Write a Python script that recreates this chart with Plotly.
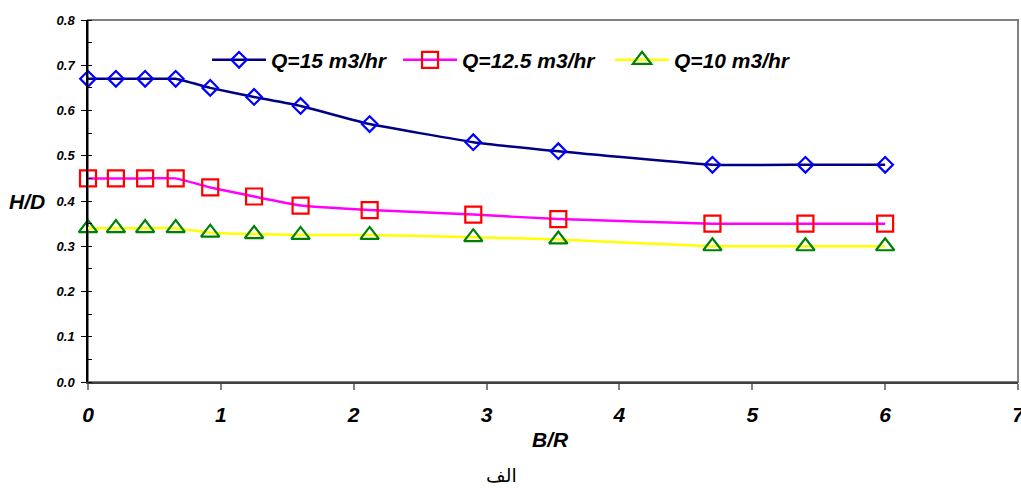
import plotly.graph_objects as go

# ---- data ----
br = [0, 0.21, 0.43, 0.66, 0.92, 1.25, 1.6, 2.12, 2.9, 3.54, 4.7, 5.4, 6.0]
q15 = [0.67, 0.67, 0.67, 0.67, 0.65, 0.63, 0.61, 0.57, 0.53, 0.51, 0.48, 0.48, 0.48]
q125 = [0.45, 0.45, 0.45, 0.45, 0.43, 0.41, 0.39, 0.38, 0.37, 0.36, 0.35, 0.35, 0.35]
q10 = [0.34, 0.34, 0.34, 0.34, 0.33, 0.327, 0.325, 0.325, 0.32, 0.315, 0.30, 0.30, 0.30]
names = ["Q=15 m3/hr", "Q=12.5 m3/hr", "Q=10 m3/hr"]
x_ticks = [0, 1, 2, 3, 4, 5, 6, 7]
y_ticks = [0.0, 0.1, 0.2, 0.3, 0.4, 0.5, 0.6, 0.7, 0.8]

FONT = "Liberation Sans, Arial, sans-serif"

fig = go.Figure()
fig.add_trace(go.Scatter(
    x=br, y=q15, name=names[0], mode="lines+markers", cliponaxis=False,
    line=dict(color="#000080", width=2.5, shape="spline", smoothing=0.3),
    marker=dict(symbol="diamond-open", size=12, color="#0000FF", line=dict(width=2.2, color="#0000FF")),
    legendwidth=122,
))
fig.add_trace(go.Scatter(
    x=br, y=q125, name=names[1], mode="lines+markers", cliponaxis=False,
    line=dict(color="#FF00FF", width=2.5, shape="spline", smoothing=0.3),
    marker=dict(symbol="square-open", size=16, color="#FF0000", line=dict(width=2.2, color="#FF0000")),
    legendwidth=143,
))
fig.add_trace(go.Scatter(
    x=br, y=q10, name=names[2], mode="lines+markers", cliponaxis=False,
    line=dict(color="#FFFF00", width=2.5, shape="spline", smoothing=0.3),
    marker=dict(symbol="triangle-up-open", size=16, color="#008000", line=dict(width=2.2, color="#008000")),
    legendwidth=130,
))

fig.update_layout(
    width=1021, height=488,
    margin=dict(l=88, r=3, t=20, b=106, autoexpand=False),
    paper_bgcolor="white", plot_bgcolor="white",
    font=dict(family=FONT, color="black"),
    showlegend=True,
    legend=dict(
        orientation="h", x=0.128, xanchor="left", y=0.889, yanchor="middle",
        bgcolor="rgba(0,0,0,0)", borderwidth=0, itemwidth=54,
        font=dict(family=FONT, size=21, weight="bold", style="italic", color="black"),
    ),
    xaxis=dict(
        range=[0, 7], tickvals=x_ticks, ticktext=[str(v) for v in x_ticks],
        showgrid=False, zeroline=False, showline=True, linecolor="#404040", linewidth=1.5,
        ticks="outside", ticklen=6, tickwidth=1.5, tickcolor="#808080",
        ticklabelstandoff=7, ticklabeloverflow="allow", automargin=False,
        tickfont=dict(family=FONT, size=21, weight="bold", style="italic", color="black"),
    ),
    yaxis=dict(
        range=[0, 0.8], tickvals=y_ticks, ticktext=["%.1f" % v for v in y_ticks],
        showgrid=False, zeroline=False, showline=True, linecolor="black", linewidth=1.5,
        ticks="outside", ticklen=5, tickwidth=1.2, tickcolor="black",
        ticklabelstandoff=4, automargin=False,
        minor=dict(ticks="inside", ticklen=4, dtick=0.05, tickwidth=1, tickcolor="black"),
        tickfont=dict(family=FONT, size=13, weight="bold", style="italic", color="black"),
    ),
    shapes=[dict(type="rect", xref="paper", yref="paper", x0=0, x1=1, y0=0, y1=1,
                 line=dict(color="#808080", width=2), layer="below")],
    annotations=[
        dict(text="H/D", xref="paper", yref="y", x=-0.0656, y=0.40, xanchor="center", yanchor="middle",
             showarrow=False, font=dict(family=FONT, size=21, weight="bold", style="italic", color="black")),
        dict(text="B/R", xref="paper", yref="paper", x=0.497, y=-0.16, xanchor="center", yanchor="middle",
             showarrow=False, font=dict(family=FONT, size=21, weight="bold", style="italic", color="black")),
        dict(text="الف", xref="paper", yref="paper", x=0.445, y=-0.258, xanchor="center", yanchor="middle",
             showarrow=False, font=dict(family="DejaVu Sans, sans-serif", size=19, color="black")),
    ],
)

fig.write_html("out.html")
